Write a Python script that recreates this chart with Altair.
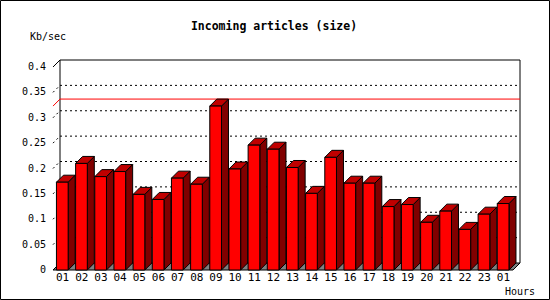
import altair as alt
import pandas as pd

# ---------------- data ----------------
hours = ["01", "02", "03", "04", "05", "06", "07", "08", "09", "10", "11", "12",
         "13", "14", "15", "16", "17", "18", "19", "20", "21", "22", "23", "01"]
values = [0.173, 0.210, 0.184, 0.194, 0.149, 0.139, 0.181, 0.169, 0.323, 0.199,
          0.246, 0.238, 0.202, 0.151, 0.222, 0.171, 0.171, 0.125, 0.129, 0.094,
          0.116, 0.080, 0.110, 0.131]
y_ticks = [0, 0.05, 0.1, 0.15, 0.2, 0.25, 0.3, 0.35, 0.4]
y_tick_labels = ["0", "0.05", "0.1", "0.15", "0.2", "0.25", "0.3", "0.35", "0.4"]
title_text = "Incoming articles (size)"
y_unit = "Kb/sec"
x_unit = "Hours"

# ---------------- layout / style ----------------
W, H = 460, 203
PAD_L, PAD_T = 53, 67
TOTAL_W, TOTAL_H = 550, 300
N = len(values)
YMAX = y_ticks[-1]
DEPTH_PX = 7
DX = DEPTH_PX * N / W          # depth in x data units
DY = DEPTH_PX * YMAX / H       # depth in y data units
A, B = 0.18, 0.79              # bar front face within its slot
FONT = "DejaVu Sans Mono"
FRONT, SIDE, TOP, FLOOR = "#ff0000", "#800000", "#c00000", "#808080"

xs = alt.Scale(domain=[0, N], nice=False, zero=False)
ys = alt.Scale(domain=[0, YMAX], nice=False, zero=False)

bars = pd.DataFrame({"i": list(range(N)), "hour": hours, "v": values})

front_df = bars.assign(x=bars.i + A, x2=bars.i + B, y0=0.0)
side_rows, top_rows = [], []
for i, v in enumerate(values):
    side_rows.append({"bar": i, "x": i + B, "lo": 0.0, "hi": v})
    side_rows.append({"bar": i, "x": i + B + DX, "lo": DY, "hi": v + DY})
    top_rows.append({"bar": i, "y": v, "xl": i + A, "xr": i + B})
    top_rows.append({"bar": i, "y": v + DY, "xl": i + A + DX, "xr": i + B + DX})
side_df = pd.DataFrame(side_rows)
top_df = pd.DataFrame(top_rows)

floor_df = pd.DataFrame({"y": [0.0, DY], "xl": [0.0, DX], "xr": [float(N), N + DX]})

grid_df = pd.DataFrame({"t": y_ticks[1:-1]})
grid_df = grid_df.assign(y=grid_df.t + DY, x=DX, x2=N + DX, x0=0.0)

ylab_df = pd.DataFrame({"t": y_ticks, "lab": y_tick_labels})


def X(f):
    return alt.X(f, type="quantitative", scale=xs, axis=None)


def Y(f):
    return alt.Y(f, type="quantitative", scale=ys, axis=None)


grid = alt.Chart(grid_df).mark_rule(color="black", strokeDash=[2, 3], strokeWidth=1).encode(
    x=X("x"), x2="x2", y=Y("y"))
side_grid = alt.Chart(grid_df).mark_rule(color="black", strokeDash=[2, 3], strokeWidth=1).encode(
    x=X("x0"), x2="x", y=Y("t"), y2="y")

frame_df = pd.DataFrame({"k": [0]}).assign(
    x0=0.0, xb=DX, xe=N + DX, ytop=YMAX + DY, yfront=YMAX, yb=DY)
wall_top = alt.Chart(frame_df).mark_rule(color="black").encode(x=X("xb"), x2="xe", y=Y("ytop"))
wall_left = alt.Chart(frame_df).mark_rule(color="black").encode(x=X("xb"), y=Y("yb"), y2="ytop")
wall_right = alt.Chart(frame_df).mark_rule(color="black").encode(x=X("xe"), y=Y("yb"), y2="ytop")
wall_diag = alt.Chart(frame_df).mark_rule(color="black").encode(
    x=X("x0"), x2="xb", y=Y("yfront"), y2="ytop")

max_base = alt.Chart(bars).transform_aggregate(m="max(v)").transform_calculate(
    x0="0", xb=str(DX), xe=str(N + DX), yb=f"datum.m + {DY}")
max_back = max_base.mark_rule(color="red", strokeWidth=1).encode(
    x=X("xb:Q"), x2="xe:Q", y=Y("yb:Q"))
max_diag = max_base.mark_rule(color="red", strokeWidth=1).encode(
    x=X("x0:Q"), x2="xb:Q", y=Y("m:Q"), y2="yb:Q")

floor = alt.Chart(floor_df).mark_area(
    orient="horizontal", fill=FLOOR, stroke="black", strokeWidth=1).encode(
    y=Y("y"), x=X("xl"), x2="xr")

side = alt.Chart(side_df).mark_area(fill=SIDE, stroke="black", strokeWidth=1).encode(
    x=X("x"), y=Y("hi"), y2="lo", detail="bar:N")

top = alt.Chart(top_df).mark_area(
    orient="horizontal", fill=TOP, stroke="black", strokeWidth=1).encode(
    y=Y("y"), x=X("xl"), x2="xr", detail="bar:N")

front = alt.Chart(front_df).mark_rect(fill=FRONT, stroke="black", strokeWidth=1).encode(
    x=alt.X("x:Q", scale=xs, axis=alt.Axis(
        values=list(range(N + 1)), labels=False, tickSize=4, grid=False, title=None,
        domainColor="black", tickColor="black", domainWidth=1, tickWidth=1)),
    x2="x2:Q",
    y=alt.Y("y0:Q", scale=ys, axis=alt.Axis(
        values=y_ticks, labels=False, tickSize=4, grid=False, title=None,
        domainColor="black", tickColor="black", domainWidth=1, tickWidth=1)),
    y2="v:Q")

xlabels = alt.Chart(bars).transform_calculate(c="datum.i + 0.5").mark_text(
    font=FONT, fontSize=11, color="black", baseline="middle", align="center").encode(
    x=X("c:Q"), y=alt.value(211), text="hour:N")

ylabels = alt.Chart(ylab_df).mark_text(
    font=FONT, fontSize=10, color="black", baseline="middle", align="right").encode(
    x=alt.value(-7), y=Y("t:Q"), text="lab:N")


def label(txt, x, y, bold=False, size=10):
    return alt.Chart(pd.DataFrame({"t": [txt]})).mark_text(
        font=FONT, fontSize=size, color="black", baseline="middle", align="center",
        fontWeight="bold" if bold else "normal").encode(
        x=alt.value(x), y=alt.value(y), text="t:N")


title = label(title_text, 221, -40, bold=True, size=11.5)
yunit = label(y_unit, -5, -30)
xunit = label(x_unit, 467, 225)

border = alt.Chart(pd.DataFrame({"k": [0]})).mark_rect(
    filled=False, stroke="black", strokeWidth=1).encode(
    x=alt.value(-PAD_L + 0.5), x2=alt.value(TOTAL_W - PAD_L - 0.5),
    y=alt.value(-PAD_T + 0.5), y2=alt.value(TOTAL_H - PAD_T - 0.5))

chart = alt.layer(
    grid, side_grid, wall_top, wall_left, wall_right, wall_diag, max_back, max_diag,
    floor, side, top, front, xlabels, ylabels, title, yunit, xunit, border
).properties(
    width=W, height=H,
    padding={"left": PAD_L, "top": PAD_T, "right": TOTAL_W - PAD_L - W,
             "bottom": TOTAL_H - PAD_T - H},
    autosize=alt.AutoSizeParams(type="none"),
    background="white",
).configure_view(stroke=None)

chart.save("out.html", embed_options={"renderer": "svg", "actions": False})
